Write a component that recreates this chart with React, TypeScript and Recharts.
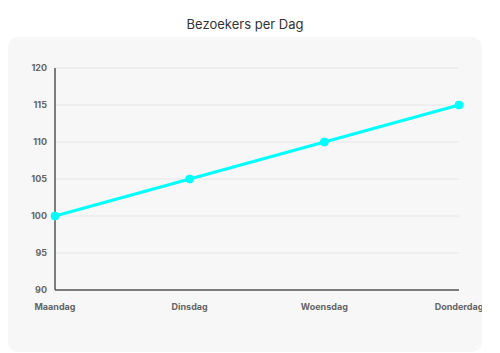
import React from "react";
import { LineChart, Line, XAxis, YAxis, CartesianGrid } from "recharts";

const days = ["Maandag", "Dinsdag", "Woensdag", "Donderdag"];
const visitors = [100, 105, 110, 115];
const yTicks = [90, 95, 100, 105, 110, 115, 120];

const data = days.map((d, i) => ({ day: d, bezoekers: visitors[i] }));

const tickStyle = { fontSize: 9, fontWeight: 700, fill: "#666", fontFamily: "Inter" };

export default function App() {
  return (
    <div style={{ width: 474, fontFamily: "Inter" }}>
      <div
        style={{
          textAlign: "center",
          fontSize: 13,
          color: "#333",
          height: 29,
          lineHeight: "25px",
          paddingTop: 4,
          boxSizing: "border-box",
        }}
      >
        Bezoekers per Dag
      </div>
      <div
        style={{
          background: "#f7f7f7",
          borderRadius: 10,
          height: 315,
          overflow: "hidden",
        }}
      >
        <LineChart
          width={474}
          height={315}
          data={data}
          margin={{ top: 31, right: 23, left: 0, bottom: 32 }}
        >
          <CartesianGrid vertical={false} stroke="#e6e6e6" />
          <XAxis
            dataKey="day"
            tickLine={false}
            axisLine={{ stroke: "#555", strokeWidth: 1.5 }}
            tick={tickStyle}
            tickMargin={8}
            height={30}
            interval={0}
          />
          <YAxis
            domain={[90, 120]}
            ticks={yTicks}
            tickLine={false}
            axisLine={{ stroke: "#555", strokeWidth: 1.5 }}
            tick={tickStyle}
            width={47}
          />
          <Line
            type="linear"
            dataKey="bezoekers"
            stroke="#00ffff"
            strokeWidth={3}
            dot={{ r: 4, fill: "#00ffff", stroke: "#00ffff", strokeWidth: 1 }}
            isAnimationActive={false}
          />
        </LineChart>
      </div>
    </div>
  );
}
